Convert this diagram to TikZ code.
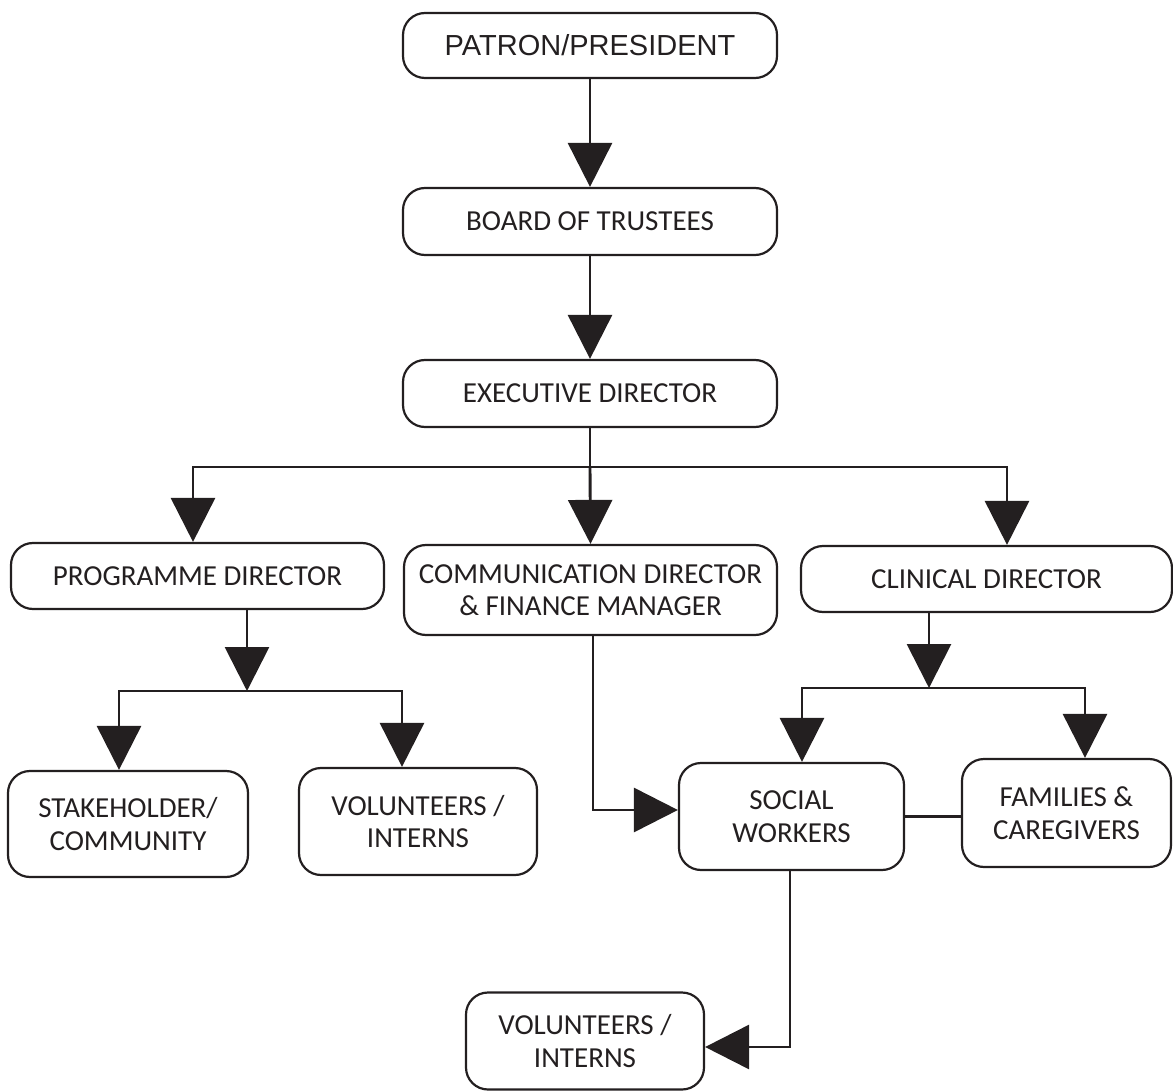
\documentclass[tikz,border=0pt]{standalone}
\usepackage{fontspec}
\setmainfont{Carlito}
\newfontfamily\arialfont{Liberation Sans}
\usetikzlibrary{arrows.meta}
\definecolor{ink}{RGB}{35,31,32}

\begin{document}
\begin{tikzpicture}[x=0.5pt,y=-0.5pt,
box/.style={rectangle, rounded corners=11pt, draw=ink, line width=1.1pt, align=center, inner sep=0pt, text=ink, font=\fontsize{14.5}{16.2}\selectfont},
edge/.style={draw=ink, line width=1.45pt},
bigtip/.tip={Triangle[length=22pt,width=22pt]}]

\useasboundingbox (0,0) rectangle (1173,1091);

%% top chain
\node[box, font=\arialfont\fontsize{14.5}{16}\selectfont, minimum width=187pt, minimum height=32.5pt] (patron) at (590,45.5) {PATRON/PRESIDENT};
\node[box, minimum width=187pt, minimum height=33.5pt] (board) at (590,221.5) {BOARD OF TRUSTEES};
\node[box, minimum width=187pt, minimum height=33.5pt] (exec) at (590,393.5) {EXECUTIVE DIRECTOR};

%% directors
\node[box, minimum width=186.5pt, minimum height=33pt] (prog) at (197.5,576) {PROGRAMME DIRECTOR};
\node[box, minimum width=186.5pt, minimum height=45pt] (comm) at (590.5,590) {COMMUNICATION DIRECTOR\\\& FINANCE MANAGER};
\node[box, minimum width=185.5pt, minimum height=33pt] (clin) at (986.5,579) {CLINICAL DIRECTOR};

%% lower level
\node[box, minimum width=120pt, minimum height=53pt] (stake) at (128,824) {STAKEHOLDER/\\COMMUNITY};
\node[box, minimum width=119pt, minimum height=53.5pt] (vol-a) at (418,821.5) {VOLUNTEERS /\\INTERNS};
\node[box, minimum width=112.5pt, minimum height=53.5pt] (social) at (791.5,816.5) {SOCIAL\\WORKERS};
\node[box, minimum width=104.5pt, minimum height=54pt] (family) at (1066.5,813) {FAMILIES \&\\CAREGIVERS};
\node[box, minimum width=119pt, minimum height=48.5pt] (vol-b) at (585,1041) {VOLUNTEERS /\\INTERNS};

%% branch points
\coordinate (e-l) at (193,467);
\coordinate (e-r) at (1007,467);
\coordinate (p-m) at (247,691);
\coordinate (p-l) at (119,691);
\coordinate (p-r) at (402,691);
\coordinate (k-m) at (929,688);
\coordinate (k-l) at (802,688);
\coordinate (k-r) at (1085,688);
\coordinate (c-c) at (593,810);
\coordinate (s-c) at (790,1047);

%% connectors
\draw[edge, -bigtip] (patron) -- (board);
\draw[edge, -bigtip] (board) -- (exec);
\draw[edge] (exec.south) -- (exec.south |- e-l);
\draw[edge, bigtip-bigtip] (prog.north -| e-l) -- (e-l) -- (e-r) -- (clin.north -| e-r);
\draw[edge, -bigtip] (exec.south |- e-l) -- (comm.north);

\draw[edge, -bigtip] (prog.south -| p-m) -- (p-m);
\draw[edge, bigtip-bigtip] (stake.north -| p-l) -- (p-l) -- (p-r) -- (vol-a.north -| p-r);

\draw[edge, -bigtip] (clin.south -| k-m) -- (k-m);
\draw[edge, bigtip-bigtip] (social.north -| k-l) -- (k-l) -- (k-r) -- (family.north -| k-r);

\draw[edge, -bigtip] (comm.south -| c-c) -- (c-c) -- (social.west |- c-c);
\draw[edge] (social.east) -- (social.east -| family.west);
\draw[edge, -bigtip] (social.south -| s-c) -- (s-c) -- (vol-b.east |- s-c);

\end{tikzpicture}
\end{document}
